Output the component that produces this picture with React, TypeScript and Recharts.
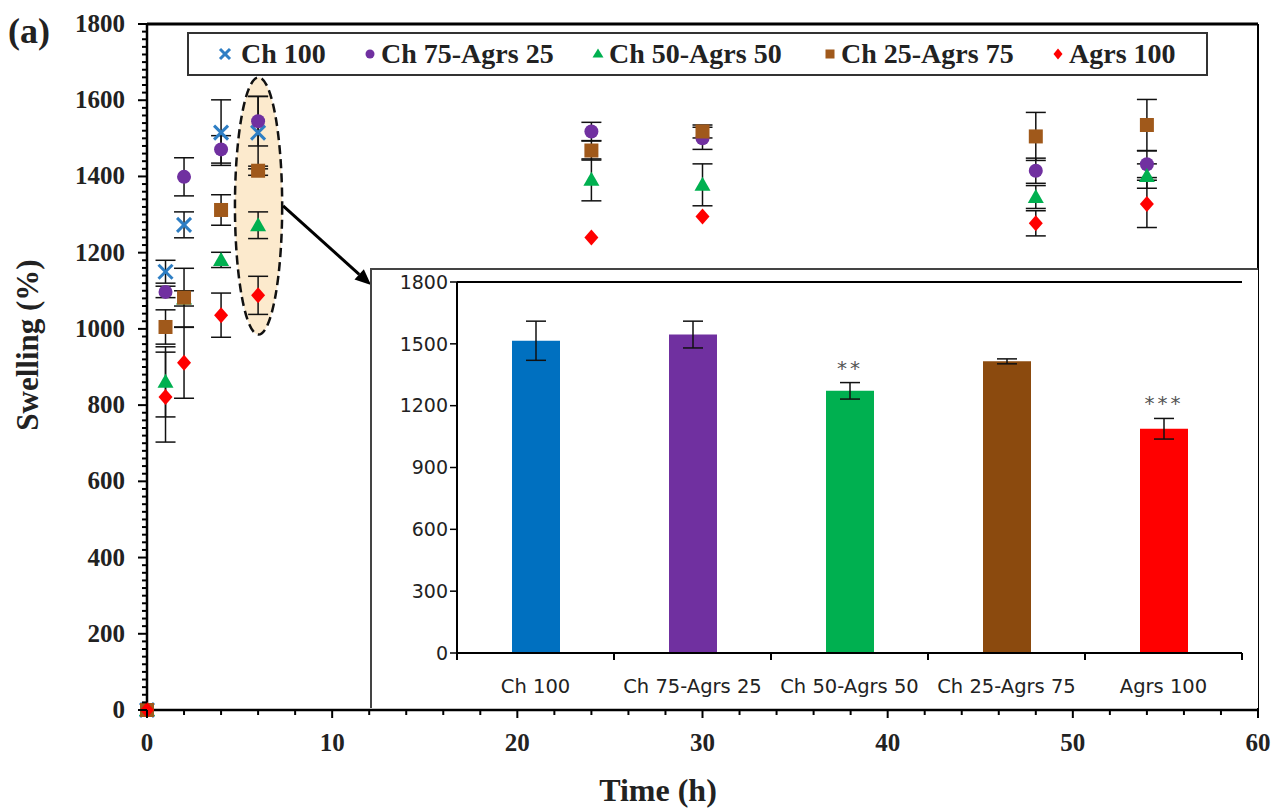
import React from 'react';
import {
  ScatterChart,
  Scatter,
  XAxis,
  YAxis,
  ErrorBar,
  ReferenceArea,
  ReferenceLine,
  BarChart,
  Bar,
  Cell,
  LabelList,
} from 'recharts';

// time points (h)
const hours = [0, 1, 2, 4, 6, 24, 30, 48, 54];

// swelling (%) per formulation, null = not measured
const ch100 = [0, 1150, 1273, 1515, 1515, null, null, null, null];
const ch100Err = [0, 30, 34, 86, 95, 0, 0, 0, 0];
const ch75 = [0, 1097, 1399, 1471, 1545, 1518, 1500, 1415, 1432];
const ch75Err = [0, 15, 50, 36, 65, 24, 29, 33, 35];
const ch50 = [0, 861, 1080, 1181, 1272, 1391, 1378, 1346, 1401];
const ch50Err = [0, 92, 20, 20, 35, 55, 55, 30, 32];
const ch25 = [0, 1005, 1082, 1312, 1415, 1468, 1518, 1505, 1535];
const ch25Err = [0, 45, 77, 40, 12, 25, 17, 63, 67];
const agrs = [0, 821, 911, 1036, 1088, 1240, 1295, 1277, 1328];
const agrsErr = [0, 118, 93, 58, 50, 0, 0, 33, 62];

// inset: swelling at 6 h
const insetNames = ['Ch 100', 'Ch 75-Agrs 25', 'Ch 50-Agrs 50', 'Ch 25-Agrs 75', 'Agrs 100'];
const insetValues = [1515, 1545, 1272, 1415, 1088];
const insetErrors = [95, 65, 40, 12, 50];
const insetSig = ['', '', '**', '', '***'];
const insetColors = ['#0070C0', '#7030A0', '#00B050', '#8B4A0E', '#FF0000'];

const insetTicks = [0, 300, 600, 900, 1200, 1500, 1800];

const yMinor: number[] = [];
for (let v = 0; v <= 1800; v += 20) yMinor.push(v);
const xMinor: number[] = [];
for (let v = 0; v <= 60; v += 2) xMinor.push(v);

const toPoints = (vals: (number | null)[], errs: number[]) =>
  hours
    .map((h, i) => ({ x: h, y: vals[i], err: errs[i] }))
    .filter((p) => p.y !== null);

const series = [
  { name: 'Ch 100', kind: 'x', color: '#2E7EC4', data: toPoints(ch100, ch100Err) },
  { name: 'Ch 75-Agrs 25', kind: 'circle', color: '#7030A0', data: toPoints(ch75, ch75Err) },
  { name: 'Ch 50-Agrs 50', kind: 'triangle', color: '#00B050', data: toPoints(ch50, ch50Err) },
  { name: 'Ch 25-Agrs 75', kind: 'square', color: '#A0591B', data: toPoints(ch25, ch25Err) },
  { name: 'Agrs 100', kind: 'diamond', color: '#FF0000', data: toPoints(agrs, agrsErr) },
];

// legend item left edges (page px)
const legendLeft = [218, 363, 591, 823, 1051];

const insetData = insetNames.map((name, i) => ({
  name,
  value: insetValues[i],
  err: insetErrors[i],
  sig: insetSig[i],
}));

const SERIF = "'Liberation Serif', 'Times New Roman', serif";
const SANS = "'DejaVu Sans', 'Noto Sans', sans-serif";

function Marker({ kind, cx, cy, color, s = 7 }: any) {
  if (cx == null || cy == null) return null;
  if (kind === 'x') {
    return (
      <g stroke={color} strokeWidth={3}>
        <line x1={cx - s} y1={cy - s} x2={cx + s} y2={cy + s} />
        <line x1={cx - s} y1={cy + s} x2={cx + s} y2={cy - s} />
      </g>
    );
  }
  if (kind === 'circle') return <circle cx={cx} cy={cy} r={s} fill={color} />;
  if (kind === 'triangle')
    return (
      <polygon
        points={`${cx},${cy - s - 1} ${cx - s - 1},${cy + s - 1} ${cx + s + 1},${cy + s - 1}`}
        fill={color}
      />
    );
  if (kind === 'square')
    return <rect x={cx - s} y={cy - s} width={2 * s} height={2 * s} fill={color} />;
  return (
    <polygon
      points={`${cx},${cy - s - 1} ${cx + s},${cy} ${cx},${cy + s + 1} ${cx - s},${cy}`}
      fill={color}
    />
  );
}

const YTick = ({ x, y, payload }: any) => {
  const major = payload.value % 200 === 0;
  return (
    <g>
      <line x1={x - (major ? 9 : 5)} y1={y} x2={x} y2={y} stroke="#000" strokeWidth={2} />
      {major && (
        <text x={x - 22} y={y + 8} textAnchor="end" fontFamily={SERIF} fontWeight="bold" fontSize={25} fill="#222">
          {payload.value}
        </text>
      )}
    </g>
  );
};

const XTick = ({ x, y, payload }: any) => {
  const major = payload.value % 10 === 0;
  return (
    <g>
      <line x1={x} y1={y} x2={x} y2={y + (major ? 8 : 5)} stroke="#000" strokeWidth={2} />
      {major && (
        <text x={x} y={y + 41} textAnchor="middle" fontFamily={SERIF} fontWeight="bold" fontSize={25} fill="#222">
          {payload.value}
        </text>
      )}
    </g>
  );
};

const Ellipse = ({ x, y, width, height }: any) => (
  <ellipse
    cx={x + width / 2}
    cy={y + height / 2}
    rx={width / 2}
    ry={height / 2}
    fill="#FBE3BC"
    fillOpacity={0.75}
    stroke="#111"
    strokeWidth={2.5}
    strokeDasharray="9 5"
  />
);

const Arrow = ({ x1, y1, x2, y2 }: any) => {
  const a = Math.atan2(y2 - y1, x2 - x1);
  const L = 16;
  const W = 7;
  const bx = x2 - L * Math.cos(a);
  const by = y2 - L * Math.sin(a);
  const p1 = `${bx - W * Math.sin(a)},${by + W * Math.cos(a)}`;
  const p2 = `${bx + W * Math.sin(a)},${by - W * Math.cos(a)}`;
  return (
    <g>
      <line x1={x1} y1={y1} x2={bx} y2={by} stroke="#000" strokeWidth={3} />
      <polygon points={`${x2},${y2} ${p1} ${p2}`} fill="#000" />
    </g>
  );
};

// inset layout
const INSET_W = 886;
const INSET_H = 438;
const INSET_M = { top: 12, right: 16, left: 25, bottom: 15 };
const INSET_YW = 60;
const BAND = (INSET_W - INSET_M.left - INSET_M.right - INSET_YW) / insetNames.length;

const InsetXTick = ({ x, y, payload, index }: any) => (
  <g>
    <line x1={x - BAND / 2} y1={y} x2={x - BAND / 2} y2={y + 7} stroke="#000" strokeWidth={2} />
    {index === insetNames.length - 1 && (
      <line x1={x + BAND / 2} y1={y} x2={x + BAND / 2} y2={y + 7} stroke="#000" strokeWidth={2} />
    )}
    <text x={x} y={y + 40} textAnchor="middle" fontFamily={SANS} fontSize={19.5} fill="#222">
      {payload.value}
    </text>
  </g>
);

const SigLabel = ({ x, y, width, height, value, index }: any) => {
  if (!value) return null;
  const perUnit = height / insetValues[index];
  const top = y - insetErrors[index] * perUnit;
  return (
    <text x={x + width / 2} y={top - 8} textAnchor="middle" fontFamily={SANS} fontSize={20} fill="#555" letterSpacing={3}>
      {value}
    </text>
  );
};

function LegendBox() {
  return (
    <div
      style={{
        position: 'absolute',
        left: 187,
        top: 32,
        width: 1021,
        height: 44,
        boxSizing: 'border-box',
        border: '2px solid #333',
        background: '#fff',
        fontFamily: SERIF,
        fontWeight: 'bold',
        fontSize: 28,
        color: '#222',
      }}
    >
      {series.map((s, i) => (
        <div
          key={s.name}
          style={{
            position: 'absolute',
            left: legendLeft[i] - 189,
            top: 0,
            height: 40,
            display: 'flex',
            alignItems: 'center',
            gap: s.kind === 'x' ? 9 : 4,
          }}
        >
          <svg width={14} height={14}>
            <Marker kind={s.kind} cx={7} cy={7} color={s.color} s={s.kind === 'x' ? 5 : 4.5} />
          </svg>
          <span style={{ whiteSpace: 'nowrap' }}>{s.name}</span>
        </div>
      ))}
    </div>
  );
}

export default function App() {
  return (
    <div style={{ position: 'absolute', left: 0, top: 0, width: 1281, height: 809, background: '#fff' }}>
      <ScatterChart width={1281} height={809} margin={{ top: 24, right: 23, bottom: 59, left: 67 }}>
        <XAxis
          type="number"
          dataKey="x"
          domain={[0, 60]}
          ticks={xMinor}
          interval={0}
          height={40}
          tickSize={0}
          tickMargin={0}
          tickLine={false}
          tick={<XTick />}
          axisLine={{ stroke: '#000', strokeWidth: 2.5 }}
        />
        <YAxis
          type="number"
          dataKey="y"
          domain={[0, 1800]}
          ticks={yMinor}
          interval={0}
          width={80}
          tickSize={0}
          tickMargin={0}
          tickLine={false}
          tick={<YTick />}
          axisLine={{ stroke: '#000', strokeWidth: 2.5 }}
        />
        <ReferenceLine y={1800} stroke="#000" strokeWidth={3} />
        <ReferenceLine x={60} stroke="#000" strokeWidth={2} />
        <ReferenceArea x1={4.75} x2={7.3} y1={985} y2={1660} shape={<Ellipse />} />
        {series.map((s) => (
          <Scatter
            key={s.name}
            name={s.name}
            data={s.data}
            isAnimationActive={false}
            shape={(p: any) => <Marker kind={s.kind} cx={p.cx} cy={p.cy} color={s.color} />}
          >
            <ErrorBar dataKey="err" direction="y" width={10} stroke="#111" strokeWidth={1.5} />
          </Scatter>
        ))}
        <ReferenceLine
          segment={[
            { x: 7.35, y: 1323 },
            { x: 12.1, y: 1115 },
          ]}
          shape={<Arrow />}
        />
      </ScatterChart>

      <LegendBox />

      <div
        style={{
          position: 'absolute',
          left: 370,
          top: 268,
          width: INSET_W + 2,
          height: INSET_H + 2,
          boxSizing: 'border-box',
          borderLeft: '2px solid #444',
          borderTop: '2px solid #444',
          background: '#fff',
        }}
      >
        <BarChart width={INSET_W} height={INSET_H} data={insetData} margin={INSET_M} barCategoryGap={0}>
          <XAxis
            dataKey="name"
            height={40}
            tickSize={0}
            tickMargin={0}
            tickLine={false}
            interval={0}
            tick={<InsetXTick />}
            axisLine={{ stroke: '#000', strokeWidth: 2 }}
          />
          <YAxis
            domain={[0, 1800]}
            ticks={insetTicks}
            interval={0}
            width={INSET_YW}
            tickSize={7}
            tickLine={{ stroke: '#000', strokeWidth: 1.5 }}
            axisLine={{ stroke: '#000', strokeWidth: 2 }}
            tick={{ fontFamily: SANS, fontSize: 19, fill: '#222' }}
          />
          <YAxis
            yAxisId="frame"
            orientation="right"
            domain={[0, 1800]}
            width={0}
            tick={false}
            tickLine={false}
            axisLine={{ stroke: '#000', strokeWidth: 2 }}
          />
          <ReferenceLine y={1800} stroke="#000" strokeWidth={2} />
          <Bar dataKey="value" barSize={48} isAnimationActive={false}>
            {insetData.map((d, i) => (
              <Cell key={d.name} fill={insetColors[i]} />
            ))}
            <ErrorBar dataKey="err" width={10} stroke="#111" strokeWidth={1.5} />
            <LabelList dataKey="sig" content={<SigLabel />} />
          </Bar>
        </BarChart>
      </div>

      <div
        style={{
          position: 'absolute',
          left: 8,
          top: 10,
          fontFamily: SERIF,
          fontWeight: 'bold',
          fontSize: 36,
          color: '#222',
        }}
      >
        (a)
      </div>
      <div
        style={{
          position: 'absolute',
          left: 658,
          top: 790,
          transform: 'translate(-50%, -50%)',
          whiteSpace: 'nowrap',
          fontFamily: SERIF,
          fontWeight: 'bold',
          fontSize: 32,
          color: '#222',
        }}
      >
        Time (h)
      </div>
      <div
        style={{
          position: 'absolute',
          left: 28,
          top: 345,
          transform: 'translate(-50%, -50%) rotate(-90deg)',
          whiteSpace: 'nowrap',
          fontFamily: SERIF,
          fontWeight: 'bold',
          fontSize: 31,
          color: '#222',
        }}
      >
        Swelling (%)
      </div>
    </div>
  );
}
